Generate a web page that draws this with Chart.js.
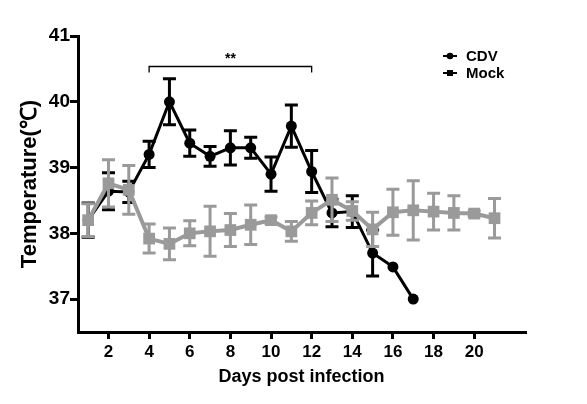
<!DOCTYPE html>
<html>
<head>
<meta charset="utf-8">
<script src="https://cdn.jsdelivr.net/npm/chart.js@4/dist/chart.umd.min.js"></script>
<style>
  html, body { margin: 0; padding: 0; background: #fff; }
  #wrap { width: 587px; height: 404px; }
</style>
</head>
<body>
<div id="wrap"><canvas id="grafico"></canvas></div>
<script>
// datos
const dias = [1, 2, 3, 4, 5, 6, 7, 8, 9, 10, 11, 12, 13, 14, 15, 16, 17, 18, 19, 20, 21];
const cdvMedia = [38.2, 38.64, 38.63, 39.2, 40.0, 39.37, 39.17, 39.3, 39.3, 38.9, 39.63, 38.94, 38.31, 38.33, 37.7, 37.49, 37.0];
const cdvError = [0.26, 0.28, 0.16, 0.2, 0.35, 0.2, 0.15, 0.26, 0.16, 0.26, 0.32, 0.32, 0.21, 0.24, 0.35, 0, 0];
const mockMedia = [38.2, 38.76, 38.66, 37.92, 37.84, 38.0, 38.03, 38.05, 38.13, 38.2, 38.03, 38.31, 38.51, 38.34, 38.06, 38.32, 38.35, 38.33, 38.31, 38.3, 38.23];
const mockError = [0.25, 0.36, 0.37, 0.22, 0.24, 0.19, 0.38, 0.25, 0.3, 0.05, 0.15, 0.18, 0.33, 0.14, 0.26, 0.35, 0.45, 0.28, 0.26, 0.04, 0.3];
const ticksX = [2, 4, 6, 8, 10, 12, 14, 16, 18, 20];
const ticksY = [37, 38, 39, 40, 41];
const rangoSig = [4, 12];
const alturaSig = 40.54;
const textoSig = '**';
const nombres = ['CDV', 'Mock'];

const NEGRO = '#000000';
const GRIS = '#9a9a9a';
const FUENTE = '"Liberation Sans", Arial, sans-serif';

function puntos(media) {
    return media.map((v, i) => ({ x: dias[i], y: v }));
}

// barras de error, debajo de cada serie
const pluginErrores = {
    id: 'errores',
    beforeDatasetDraw(chart, args) {
        const ds = chart.data.datasets[args.index];
        if (!ds.errores) return;
        const ctx = chart.ctx, sx = chart.scales.x, sy = chart.scales.y;
        ctx.save();
        ctx.strokeStyle = ds.borderColor;
        ctx.lineWidth = 3;
        ds.data.forEach((p, i) => {
            const e = ds.errores[i];
            if (!e) return;
            const x = sx.getPixelForValue(p.x);
            const y1 = sy.getPixelForValue(p.y + e);
            const y2 = sy.getPixelForValue(p.y - e);
            ctx.beginPath();
            ctx.moveTo(x, y1); ctx.lineTo(x, y2);
            ctx.moveTo(x - 6.5, y1); ctx.lineTo(x + 6.5, y1);
            ctx.moveTo(x - 6.5, y2); ctx.lineTo(x + 6.5, y2);
            ctx.stroke();
        });
        ctx.restore();
    }
};

// corchete de significancia y leyenda
const pluginExtras = {
    id: 'extras',
    afterDraw(chart) {
        const ctx = chart.ctx, sx = chart.scales.x, sy = chart.scales.y;
        ctx.save();
        const xa = sx.getPixelForValue(rangoSig[0]);
        const xb = sx.getPixelForValue(rangoSig[1]);
        const y = Math.round(sy.getPixelForValue(alturaSig)) + 0.5;
        ctx.strokeStyle = NEGRO;
        ctx.lineWidth = 1.3;
        ctx.beginPath();
        ctx.moveTo(xa, y + 6); ctx.lineTo(xa, y); ctx.lineTo(xb, y); ctx.lineTo(xb, y + 6);
        ctx.stroke();
        ctx.fillStyle = NEGRO;
        ctx.font = 'bold 14px ' + FUENTE;
        ctx.textAlign = 'center';
        ctx.textBaseline = 'middle';
        ctx.fillText(textoSig, (xa + xb) / 2, y - 7);

        // leyenda
        const filas = [56, 73];
        chart.data.datasets.slice().sort((a, b) => nombres.indexOf(a.label) - nombres.indexOf(b.label)).forEach((ds, i) => {
            const yy = filas[i];
            ctx.strokeStyle = NEGRO;
            ctx.fillStyle = NEGRO;
            ctx.lineWidth = 2;
            ctx.beginPath(); ctx.moveTo(443, yy); ctx.lineTo(457, yy); ctx.stroke();
            ctx.beginPath();
            if (ds.pointStyle === 'circle') ctx.arc(450, yy, 3.3, 0, Math.PI * 2);
            else ctx.rect(447, yy - 3, 6, 6);
            ctx.fill();
            ctx.font = 'bold 15px ' + FUENTE;
            ctx.textAlign = 'left';
            ctx.fillText(ds.label, 466, yy + 1);
        });
        ctx.restore();
    }
};

new Chart(document.getElementById('grafico'), {
    type: 'line',
    data: {
        datasets: [
            {
                label: 'Mock', data: puntos(mockMedia), errores: mockError, order: 0,
                borderColor: GRIS, backgroundColor: GRIS, borderWidth: 4,
                pointStyle: 'rect', pointRadius: 8.3, pointBorderWidth: 0, pointHoverRadius: 8.3
            },
            {
                label: 'CDV', data: puntos(cdvMedia), errores: cdvError, order: 1,
                borderColor: NEGRO, backgroundColor: NEGRO, borderWidth: 3,
                pointStyle: 'circle', pointRadius: 5.5, pointBorderWidth: 0, pointHoverRadius: 5.5
            }
        ]
    },
    options: {
        responsive: true, maintainAspectRatio: false, animation: false,
        layout: { padding: { left: 0, top: 36, right: 62, bottom: 0 } },
        plugins: { legend: { display: false }, tooltip: { enabled: false } },
        scales: {
            x: {
                type: 'linear', min: 0.5, max: 22.5,
                afterBuildTicks: s => { s.ticks = ticksX.map(v => ({ value: v })); },
                afterFit: s => { s.height = 72; },
                grid: { drawOnChartArea: false, drawTicks: true, tickLength: 7, color: NEGRO, lineWidth: 3 },
                border: { display: true, color: NEGRO, width: 3 },
                ticks: { color: NEGRO, padding: 3, font: { family: FUENTE, size: 17, weight: 'bold' } },
                title: { display: true, text: 'Days post infection', color: NEGRO,
                         padding: { top: 0, bottom: 16 }, font: { family: FUENTE, size: 18, weight: 'bold' } }
            },
            y: {
                min: 36.5, max: 41,
                afterBuildTicks: s => { s.ticks = ticksY.map(v => ({ value: v })); },
                afterFit: s => { s.width = 78; },
                grid: { drawOnChartArea: false, drawTicks: true, tickLength: 8, color: NEGRO, lineWidth: 3 },
                border: { display: true, color: NEGRO, width: 3 },
                ticks: { color: NEGRO, padding: 0, font: { family: FUENTE, size: 19, weight: 'bold' } },
                title: { display: true, text: 'Temperature(℃)', color: NEGRO,
                         padding: { top: 17, bottom: 0 }, font: { family: FUENTE, size: 22, weight: 'bold' } }
            }
        }
    },
    plugins: [pluginErrores, pluginExtras]
});
</script>
</body>
</html>
